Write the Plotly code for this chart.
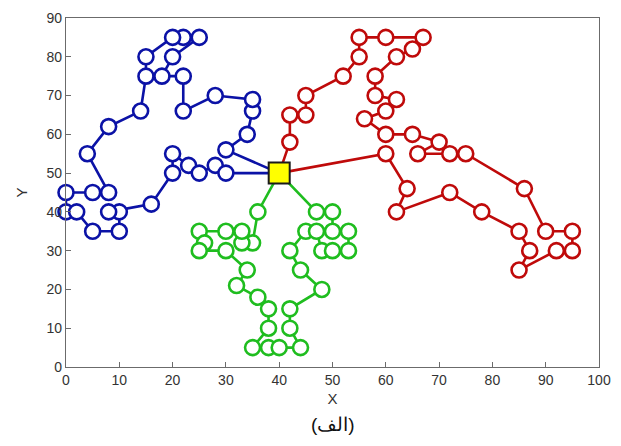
import plotly.graph_objects as go

depot_x = [40]
depot_y = [50]

blue_x = [30, 34, 35, 35, 28, 22, 22, 18, 20, 25, 22, 20, 15, 15, 14, 8, 4, 8, 5, 0, 0, 2, 5, 10, 10, 8, 16, 20, 20, 23, 25, 28, 30]
blue_y = [56, 60, 66, 69, 70, 66, 75, 75, 80, 85, 85, 85, 80, 75, 66, 62, 55, 45, 45, 45, 40, 40, 35, 35, 40, 40, 42, 50, 55, 52, 50, 52, 50]

red_x = [42, 42, 45, 45, 52, 55, 55, 60, 67, 65, 62, 58, 58, 62, 60, 56, 60, 65, 70, 66, 72, 75, 86, 90, 95, 95, 92, 85, 87, 85, 78, 72, 62, 64, 60]
red_y = [58, 65, 65, 70, 75, 80, 85, 85, 85, 82, 80, 75, 70, 69, 66, 64, 60, 60, 58, 55, 55, 55, 46, 35, 35, 30, 30, 25, 30, 35, 40, 45, 40, 46, 55]

green_x = [36, 35, 33, 33, 30, 25, 26, 25, 30, 34, 32, 36, 38, 38, 35, 38, 40, 44, 42, 42, 48, 44, 42, 45, 47, 48, 50, 53, 53, 50, 50, 47]
green_y = [40, 32, 32, 35, 35, 35, 32, 30, 30, 25, 21, 18, 15, 10, 5, 5, 5, 5, 10, 15, 20, 25, 30, 35, 35, 30, 30, 30, 35, 35, 40, 40]

routes = [
    (blue_x, blue_y, "#0b12a6"),
    (red_x, red_y, "#bf0a0a"),
    (green_x, green_y, "#1fbd1f"),
]

fig = go.Figure()
for xs, ys, col in routes:
    fig.add_trace(go.Scatter(
        x=depot_x + xs + depot_x, y=depot_y + ys + depot_y,
        mode="lines", line=dict(color=col, width=2.6),
        hoverinfo="skip", showlegend=False, cliponaxis=False))
    fig.add_trace(go.Scatter(
        x=xs, y=ys, mode="markers",
        marker=dict(symbol="circle", size=15, color="white",
                    line=dict(color=col, width=2.6)),
        showlegend=False, cliponaxis=False))

fig.add_trace(go.Scatter(
    x=depot_x, y=depot_y, mode="markers",
    marker=dict(symbol="square", size=21, color="#ffff00",
                line=dict(color="#1a1a1a", width=2)),
    showlegend=False, cliponaxis=False))

axis_common = dict(
    showgrid=False, zeroline=False, showline=True, mirror=True,
    linecolor="#6b6b6b", linewidth=1.2, ticks="inside", ticklen=5,
    tickcolor="#6b6b6b", automargin=False,
    tickfont=dict(family="Liberation Sans, Arial", size=14, color="#333333"),
)

fig.update_layout(
    width=605, height=430,
    margin=dict(l=58, r=14, t=10, b=71),
    paper_bgcolor="white", plot_bgcolor="white",
    xaxis=dict(range=[0, 100], tickvals=list(range(0, 101, 10)),
               title=dict(text="X", standoff=6,
                          font=dict(family="Liberation Sans, Arial", size=15, color="#333333")),
               **axis_common),
    yaxis=dict(range=[0, 90], tickvals=list(range(0, 91, 10)),
               title=dict(text="Y", standoff=15,
                          font=dict(family="Liberation Sans, Arial", size=15, color="#333333")),
               **axis_common),
    annotations=[dict(
        text="(الف)", xref="paper", yref="paper", x=0.5, y=-0.166,
        xanchor="center", yanchor="middle", showarrow=False,
        font=dict(family="Liberation Sans, Arial", size=19, color="#111111"))],
)

fig.write_html("out.html")
